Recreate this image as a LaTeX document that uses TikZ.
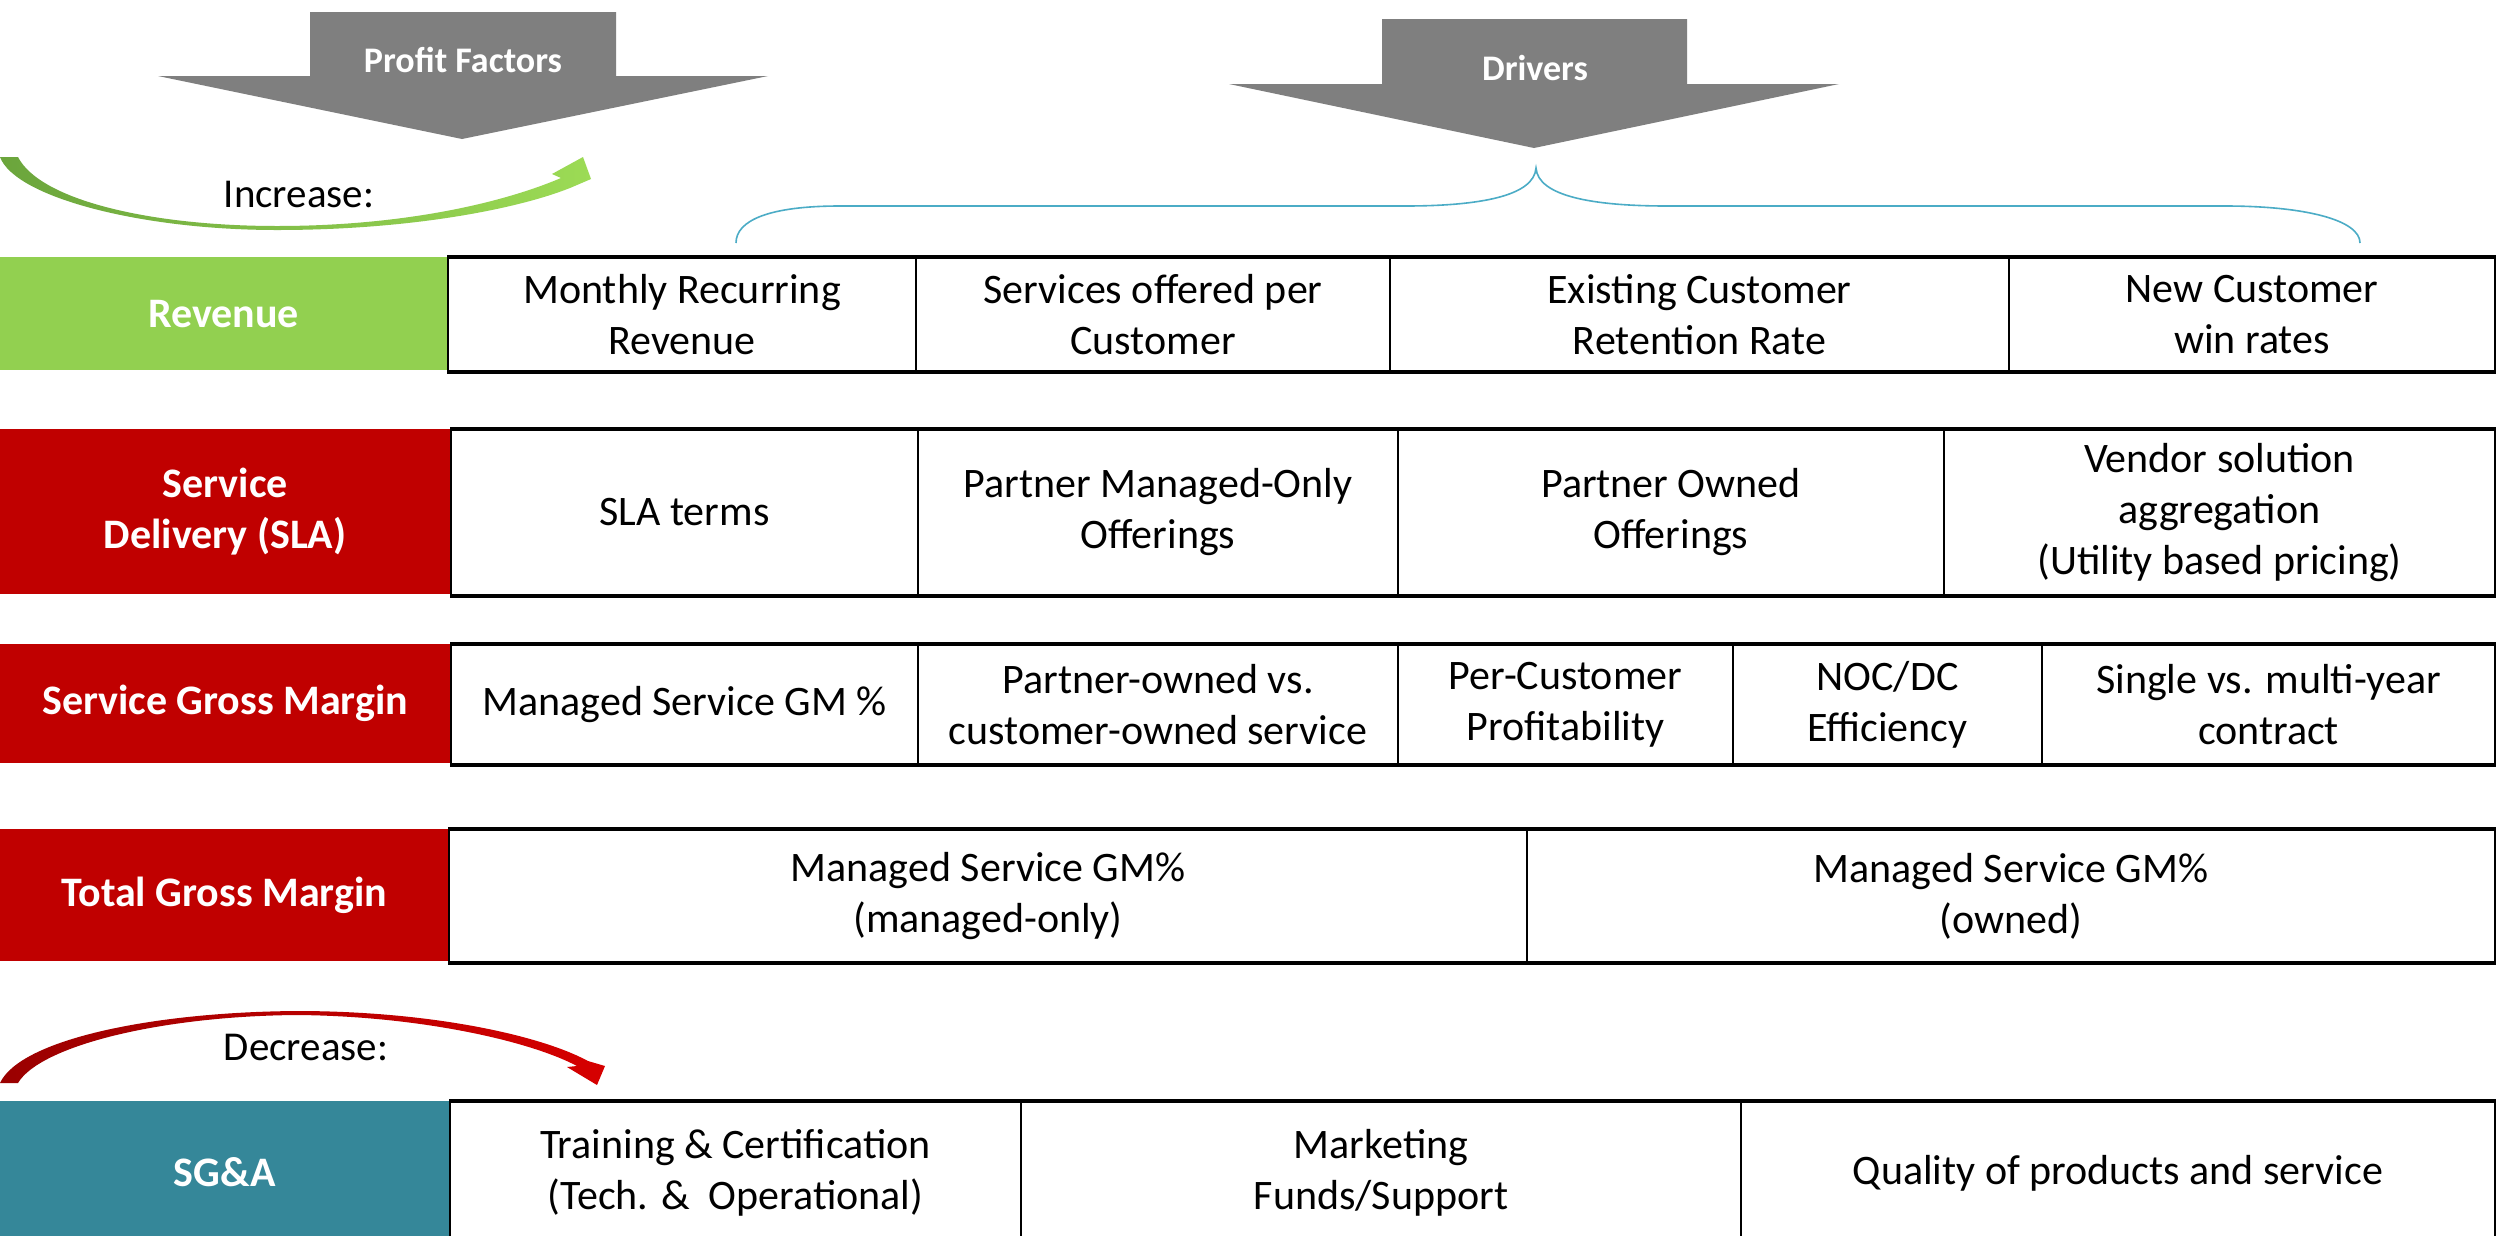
\documentclass[tikz,border=0pt]{standalone}
\usepackage{fontspec}
\setmainfont{Carlito}
\usetikzlibrary{calc}
\definecolor{revgreen}{HTML}{92D050}
\definecolor{boxred}{HTML}{C00000}
\definecolor{sgateal}{HTML}{358799}
\definecolor{arrowgray}{HTML}{7F7F7F}
\definecolor{bracecol}{HTML}{4BACC6}
\definecolor{gdark}{HTML}{6BA53C}
\definecolor{glight}{HTML}{9CDB55}
\definecolor{rdark}{HTML}{9A0000}
\definecolor{rlight}{HTML}{D60000}
\newcommand\cellfnt{\fontsize{42}{51}\selectfont}
\newcommand\labfnt{\fontsize{42}{51}\selectfont\bfseries}
\newcommand\headfnt{\fontsize{36}{43}\selectfont\bfseries}
\tikzset{
  cell/.style={draw=black, line width=2pt, fill=white, anchor=north west, align=center, inner sep=0pt, font=\cellfnt, text=black},
  lab/.style={anchor=north west, align=center, inner sep=0pt, text=white, font=\labfnt},
  rowedge/.style={line width=3.5pt, black},
  bigarrow/.style={fill=arrowgray, draw=none},
  headtext/.style={text=white, font=\headfnt, inner sep=0pt},
  curvetext/.style={text=black, font=\fontsize{41}{49}\selectfont, inner sep=0pt},
}
\begin{document}
\begin{tikzpicture}[x=1pt,y=-1pt]
\useasboundingbox (0,0) rectangle (2496,1235);
\fill[white] (0,0) rectangle (2496,1235);

% ---- big gray arrows
\path[bigarrow] (310,12) -- (616,12) -- (616,76) -- (768,76) -- (462,139) -- (158,76) -- (310,76) -- cycle;
\node[headtext] (pf) at (463,60) {Profit Factors};
\path[bigarrow] (1382,19) -- (1687,19) -- (1687,84) -- (1839,84) -- (1534,148) -- (1229,84) -- (1382,84) -- cycle;
\node[headtext] (drv) at (1535,68) {Drivers};

% ---- brace
\coordinate (brL) at (736,243);
\coordinate (brM) at (1536,168);
\coordinate (brR) at (2360,243);
\draw[bracecol, line width=1.6pt] (brL) .. controls (736,220) and (770,206) .. (840,206) -- (1405,206)
  .. controls (1480,206) and (1534,196) .. (brM)
  .. controls (1538,196) and (1592,206) .. (1667,206) -- (2225,206)
  .. controls (2305,206) and (2360,220) .. (brR);

% ---- increase arrow
\shade[left color=gdark, right color=glight]
  (0,157) .. controls (15,197) and (140,230) .. (277,230)
  .. controls (420,230) and (530,206) .. (577,185)
  -- (591,179) -- (583,157) -- (552,174) -- (561,178)
  .. controls (500,204) and (400,226) .. (277,226)
  .. controls (150,226) and (40,200) .. (18,157) -- cycle;
\node[curvetext] (inc) at (299,195) {Increase:};

% ---- decrease arrow
\shade[left color=rdark, right color=rlight]
  (0,1083) .. controls (20,1040) and (150,1012) .. (297,1011)
  .. controls (430,1011) and (540,1035) .. (588,1061)
  -- (605,1066) -- (597,1085) -- (567,1067) -- (577,1066)
  .. controls (530,1041) and (420,1016) .. (297,1015)
  .. controls (160,1016) and (40,1046) .. (18,1083) -- cycle;
\node[curvetext] (dec) at (306,1047) {Decrease:};

% ---- row 1: Revenue
\node[lab, fill=revgreen, minimum width=447pt, minimum height=113pt] (l1) at (0,257) {Revenue};
\node[cell, minimum width=468pt, minimum height=113pt] (a1) at (447,257) {Monthly Recurring\\Revenue};
\node[cell, minimum width=474pt, minimum height=113pt] (a2) at (915,257) {Services offered per\\Customer};
\node[cell, minimum width=619pt, minimum height=113pt] (a3) at (1389,257) {Existing Customer\\Retention Rate};
\node[cell, minimum width=486pt, minimum height=113pt] (a4) at (2008,257) {New Customer\\win rates};
\draw[rowedge] (a1.north west) -- (a4.north east);
\draw[rowedge] (a1.south west) -- (a4.south east);

% ---- row 2: Service Delivery
\node[lab, fill=boxred, minimum width=450pt, minimum height=165pt] (l2) at (0,429) {Service\\Delivery (SLA)};
\node[cell, minimum width=467pt, minimum height=165pt] (b1) at (450,429) {SLA terms};
\node[cell, minimum width=480pt, minimum height=165pt] (b2) at (917,429) {Partner Managed-Only\\Offerings};
\node[cell, minimum width=546pt, minimum height=165pt] (b3) at (1397,429) {Partner Owned\\Offerings};
\node[cell, minimum width=551pt, minimum height=165pt] (b4) at (1943,429) {Vendor solution\\aggregation\\(Utility based pricing)};
\draw[rowedge] (b1.north west) -- (b4.north east);
\draw[rowedge] (b1.south west) -- (b4.south east);

% ---- row 3: Service Gross Margin
\node[lab, fill=boxred, minimum width=450pt, minimum height=119pt] (l3) at (0,644) {Service Gross Margin};
\node[cell, minimum width=467pt, minimum height=119pt] (c1) at (450,644) {Managed Service GM \%};
\node[cell, minimum width=480pt, minimum height=119pt] (c2) at (917,644) {Partner-owned vs.\\customer-owned service};
\node[cell, minimum width=335pt, minimum height=119pt] (c3) at (1397,644) {Per-Customer\\Profitability};
\node[cell, minimum width=309pt, minimum height=119pt] (c4) at (1732,644) {NOC/DC\\Efficiency};
\node[cell, minimum width=453pt, minimum height=119pt] (c5) at (2041,644) {Single vs. multi-year\\contract};
\draw[rowedge] (c1.north west) -- (c5.north east);
\draw[rowedge] (c1.south west) -- (c5.south east);

% ---- row 4: Total Gross Margin
\node[lab, fill=boxred, minimum width=448pt, minimum height=132pt] (l4) at (0,829) {Total Gross Margin};
\node[cell, minimum width=1078pt, minimum height=132pt] (d1) at (448,829) {Managed Service GM\%\\(managed-only)};
\node[cell, minimum width=968pt, minimum height=132pt] (d2) at (1526,829) {Managed Service GM\%\\(owned)};
\draw[rowedge] (d1.north west) -- (d2.north east);
\draw[rowedge] (d1.south west) -- (d2.south east);

% ---- row 5: SG&A
\node[lab, fill=sgateal, minimum width=449pt, minimum height=142pt] (l5) at (0,1101) {SG\&A};
\node[cell, minimum width=571pt, minimum height=142pt] (e1) at (449,1101) {Training \& Certification\\(Tech. \&\ \ Operational)};
\node[cell, minimum width=720pt, minimum height=142pt] (e2) at (1020,1101) {Marketing\\Funds/Support};
\node[cell, minimum width=754pt, minimum height=142pt] (e3) at (1740,1101) {Quality of products and service};
\draw[rowedge] (e1.north west) -- (e3.north east);
\end{tikzpicture}
\end{document}
